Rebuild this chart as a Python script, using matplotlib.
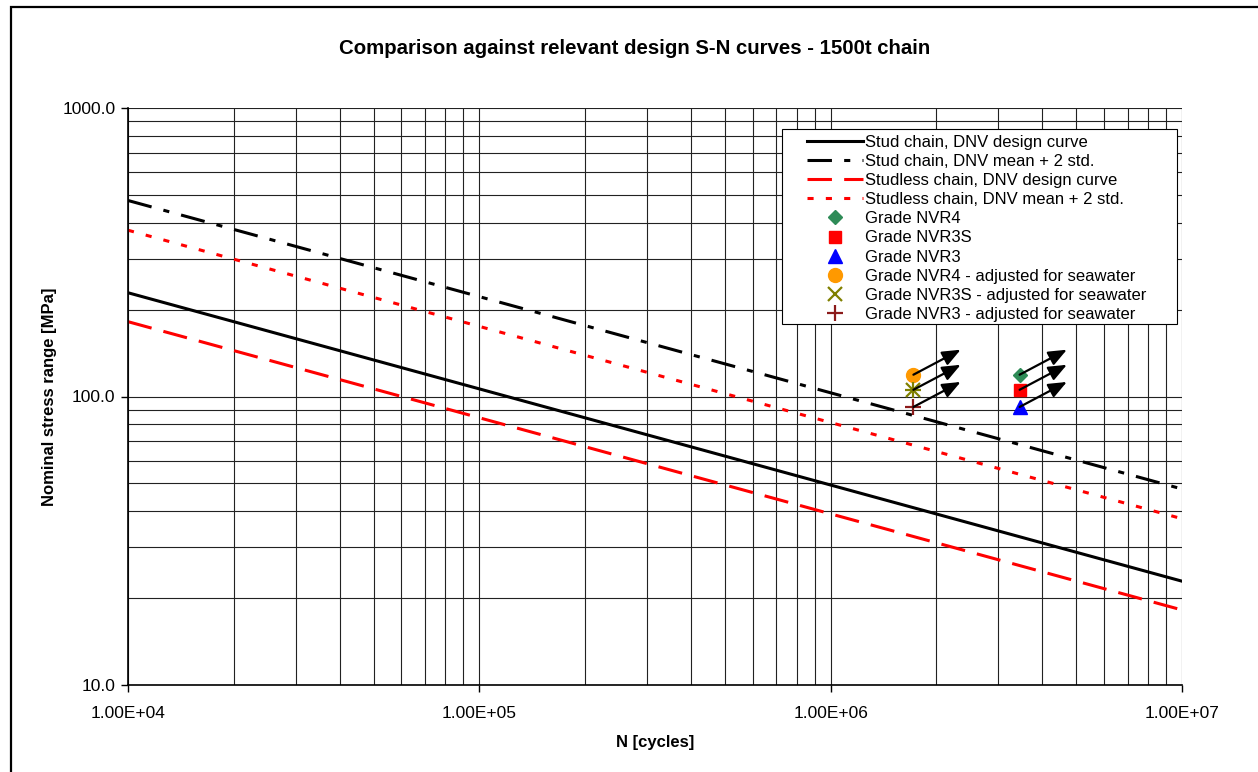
import matplotlib
matplotlib.use("Agg")
import matplotlib.pyplot as plt
from matplotlib.patches import Rectangle

plt.rcParams['font.family'] = ['Liberation Sans', 'DejaVu Sans']

# S-N curves, end points at N = 1e4 and N = 1e7
n_curve = [1.0e4, 1.0e7]
stud_design = [228.9, 22.9]
stud_mean2std = [478.0, 47.8]
studless_design = [181.7, 18.2]
studless_mean2std = [377.0, 37.7]

# test results
n_air = 3.45e6
n_sea = 1.72e6
s_nvr4 = 119.0
s_nvr3s = 105.5
s_nvr3 = 92.0

x_ticks = [1e4, 1e5, 1e6, 1e7]
x_labels = ['1.00E+04', '1.00E+05', '1.00E+06', '1.00E+07']
y_ticks = [10, 100, 1000]
y_labels = ['10.0', '100.0', '1000.0']

fig = plt.figure(figsize=(12.58, 7.72), dpi=100)
ax = fig.add_axes([128/1258, 1-685/772, 1054/1258, 577/772])

# outer chart frame
fig.patches.append(Rectangle((11/1258, -0.05), 1.2, 1-7/772+0.05, transform=fig.transFigure,
                             fill=False, edgecolor='black', linewidth=1.6))

ax.plot(n_curve, stud_design, color='black', lw=2.2, label='Stud chain, DNV design curve')
ax.plot(n_curve, stud_mean2std, color='black', lw=2.2, dashes=(8, 4, 2, 4),
        label='Stud chain, DNV mean + 2 std.')
ax.plot(n_curve, studless_design, color='red', lw=2.2, dashes=(8, 4),
        label='Studless chain, DNV design curve')
ax.plot(n_curve, studless_mean2std, color='red', lw=2.2, dashes=(2, 4),
        label='Studless chain, DNV mean + 2 std.')

ax.plot([n_air], [s_nvr4], ls='none', marker='D', ms=7, color='#2e8b57', label='Grade NVR4')
ax.plot([n_air], [s_nvr3s], ls='none', marker='s', ms=8, color='red', label='Grade NVR3S')
ax.plot([n_air], [s_nvr3], ls='none', marker='^', ms=10, color='blue', label='Grade NVR3')
ax.plot([n_sea], [s_nvr4], ls='none', marker='o', ms=10, color='#ff9900',
        label='Grade NVR4 - adjusted for seawater')
ax.plot([n_sea], [s_nvr3s], ls='none', marker='x', ms=10, mew=1.6, color='#808000',
        label='Grade NVR3S - adjusted for seawater')
ax.plot([n_sea], [s_nvr3s], ls='none', marker='+', ms=12, mew=1.6, color='#808000')
ax.plot([n_sea], [s_nvr3], ls='none', marker='+', ms=12, mew=1.6, color='#8b1a1a',
        label='Grade NVR3 - adjusted for seawater')

# run-out arrows
for n in (n_air, n_sea):
    for s in (s_nvr4, s_nvr3s, s_nvr3):
        ax.annotate('', xy=(n, s), xytext=(34, 18), textcoords='offset points',
                    arrowprops=dict(arrowstyle='<|-,head_length=1.1,head_width=0.45',
                                    color='black', lw=1.6, shrinkA=0, shrinkB=0))

ax.set_xscale('log')
ax.set_yscale('log')
ax.set_xlim(1e4, 1e7)
ax.set_ylim(10, 1000)
ax.set_xticks(x_ticks)
ax.set_xticklabels(x_labels)
ax.set_yticks(y_ticks)
ax.set_yticklabels(y_labels)
ax.minorticks_on()
ax.tick_params(which='minor', length=0)
ax.tick_params(which='major', length=5, width=1, direction='out', labelsize=12.5, pad=4)
ax.tick_params(axis='x', which='major', pad=10)
ax.grid(which='both', color='#222222', linewidth=0.8)
ax.set_axisbelow(True)
for sp in ax.spines.values():
    sp.set_linewidth(1.2)
    sp.set_color('black')
ax.spines['top'].set_visible(False)
ax.spines['right'].set_visible(False)

ax.set_xlabel('N [cycles]', fontsize=12, fontweight='bold', labelpad=10)
ax.set_ylabel('Nominal stress range [MPa]', fontsize=12, fontweight='bold', labelpad=4)
fig.text(635/1258, 1-48/772, 'Comparison against relevant design S-N curves - 1500t chain',
         ha='center', va='center', fontsize=14.7, fontweight='bold')

# legend box drawn separately (wider side padding than top/bottom)
ax.add_patch(Rectangle((0.6205, 0.6256), 0.3748, 0.338, transform=ax.transAxes,
                       facecolor='white', edgecolor='black', linewidth=0.8, zorder=4.5))
leg = ax.legend(loc='upper left', bbox_to_anchor=(0.644, 0.954), borderaxespad=0,
                fontsize=12, handlelength=3.35, handletextpad=0.15, labelspacing=0.25,
                borderpad=0, frameon=False)
leg.set_zorder(5)

fig.savefig('out.png', dpi=100)
